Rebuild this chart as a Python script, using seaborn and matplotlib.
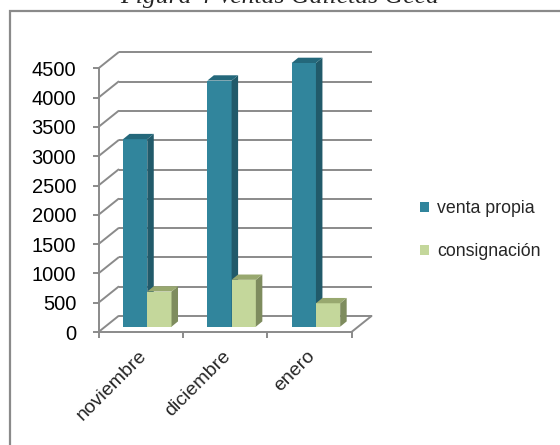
import numpy as np
import pandas as pd
import matplotlib
matplotlib.use("Agg")
import matplotlib.pyplot as plt
from matplotlib.transforms import Affine2D
from matplotlib.patches import Polygon, Rectangle
import seaborn as sns

# ---- data ----
meses = ["noviembre", "diciembre", "enero"]
venta_propia = [3200, 4200, 4500]
consignacion = [600, 800, 400]
series = ["venta propia", "consignación"]
y_ticks = list(range(0, 4501, 500))
titulo = "Figura 4 Ventas Galletas Geca"

df = pd.DataFrame({
    "mes": meses * 2,
    "valor": venta_propia + consignacion,
    "serie": [series[0]] * 3 + [series[1]] * 3,
})

# ---- style ----
sns.set_style("white")
plt.rcParams["font.family"] = ["Liberation Sans", "DejaVu Sans"]

front_cols = ["#31859C", "#C4D79B"]
side_cols = ["#215A6A", "#7E8C5E"]
top_cols = ["#24687B", "#98A86F"]
grid_col = "#8A8A8A"

W, H = 560, 445
fig = plt.figure(figsize=(W / 100, H / 100), dpi=100)

# front plane of the 3-D box, in pixels
fx0, fx1, fy0, fy1 = 98.5, 351.5, 332.0, 68.3
ax = fig.add_axes([fx0 / W, (H - fy0) / H, (fx1 - fx0) / W, (fy0 - fy1) / H])

sns.barplot(data=df, x="mes", y="valor", hue="serie", order=meses,
            hue_order=series, palette=front_cols, width=0.575,
            saturation=1, legend=False, ax=ax, linewidth=0, zorder=3)
ax.set_xlim(-0.5, 2.5)
ax.set_ylim(0, 4500)
ax.set_xlabel("")
ax.set_ylabel("")

# depth offsets in display pixels
WALL = (20.0, 16.0)
BAR_FRONT = (6.6, 5.3)
BAR_DEPTH = (6.5, 5.3)


def shift(x, y, d):
    p = ax.transData.transform((x, y)) + np.asarray(d)
    return ax.transData.inverted().transform(p)


# back wall grid lines and left-wall diagonals
for v in y_ticks:
    b0 = shift(-0.5, v, WALL)
    b1 = shift(2.5, v, WALL)
    ax.plot([b0[0], b1[0]], [b0[1], b1[1]], color=grid_col, lw=1.4,
            clip_on=False, zorder=1, solid_capstyle="butt")
    ax.plot([-0.5, b0[0]], [v, b0[1]], color=grid_col, lw=1.4,
            clip_on=False, zorder=1)
# right edge of the floor
br = shift(2.5, 0, WALL)
ax.plot([2.5, br[0]], [0, br[1]], color=grid_col, lw=1.4, clip_on=False, zorder=1)

# extrude the bars into 3-D columns
front_tr = ax.transData + Affine2D().translate(*BAR_FRONT)
both = (BAR_FRONT[0] + BAR_DEPTH[0], BAR_FRONT[1] + BAR_DEPTH[1])
for k, cont in enumerate(ax.containers):
    for bar in cont:
        x0 = bar.get_x()
        x1 = x0 + bar.get_width()
        h = bar.get_height()
        bar.set_transform(front_tr)
        bar.set_clip_on(False)
        bar.set_zorder(3 + k)
        side = [shift(x1, 0, BAR_FRONT), shift(x1, 0, both),
                shift(x1, h, both), shift(x1, h, BAR_FRONT)]
        top = [shift(x0, h, BAR_FRONT), shift(x1, h, BAR_FRONT),
               shift(x1, h, both), shift(x0, h, both)]
        ax.add_patch(Polygon(side, closed=True, facecolor=side_cols[k],
                             edgecolor="none", clip_on=False, zorder=3 + k))
        ax.add_patch(Polygon(top, closed=True, facecolor=top_cols[k],
                             edgecolor="none", clip_on=False, zorder=3 + k))

# front axes
for s in ["top", "right"]:
    ax.spines[s].set_visible(False)
for s in ["left", "bottom"]:
    ax.spines[s].set_color(grid_col)
    ax.spines[s].set_linewidth(1.4)
    ax.spines[s].set_zorder(2)
ax.set_yticks(y_ticks)
ax.set_yticklabels([str(v) for v in y_ticks], fontsize=14.5, color="black")
ax.tick_params(axis="y", direction="out", length=4.5, width=1.4,
               color=grid_col, pad=11.5, left=True)
ax.set_xticks([-0.5, 0.5, 1.5, 2.5])
ax.set_xticklabels([])
ax.tick_params(axis="x", which="major", direction="out", length=4.5,
               width=1.4, color=grid_col, bottom=True)
ax.set_xticks([0, 1, 2], minor=True)
ax.set_xticklabels(meses, minor=True, fontsize=14, rotation=45,
                   ha="right", va="top")
ax.tick_params(axis="x", which="minor", length=0, pad=11)
for lab in ax.get_xticklabels(minor=True):
    lab.set_transform(lab.get_transform() + Affine2D().translate(9, 0))
ax.set_facecolor("none")

# legend
handles = [Rectangle((0, 0), 1, 1, facecolor=c, edgecolor="none") for c in front_cols]
fig.legend(handles, series, loc="center left", bbox_to_anchor=(420 / W, 215 / H),
           frameon=False, fontsize=12.8, handlelength=0.5, handleheight=0.5,
           handletextpad=0.45, labelspacing=1.45, borderpad=0, borderaxespad=0)

# outer frame and title
fig.patches.append(Rectangle((10 / W, -0.2), 1.2, (H - 11) / H + 0.2,
                             transform=fig.transFigure, fill=False,
                             edgecolor="#8A8A8A", lw=1.6))
fig.text(280 / W, (H - 3) / H, titulo, ha="center", va="baseline",
         fontsize=18.5, style="italic", family=["Liberation Serif", "DejaVu Serif"])

fig.savefig("out.png", dpi=100)
